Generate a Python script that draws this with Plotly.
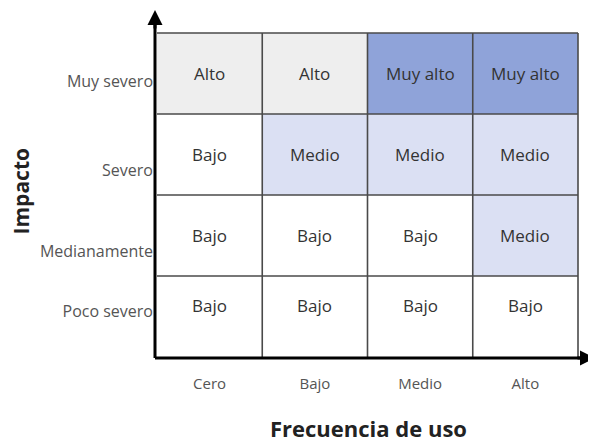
import plotly.graph_objects as go

frequency = ["Cero", "Bajo", "Medio", "Alto"]
impact = ["Poco severo", "Medianamente", "Severo", "Muy severo"]  # bottom to top
risk = [
    ["Bajo", "Bajo", "Bajo", "Bajo"],
    ["Bajo", "Bajo", "Bajo", "Medio"],
    ["Bajo", "Medio", "Medio", "Medio"],
    ["Alto", "Alto", "Muy alto", "Muy alto"],
]
levels = ["Bajo", "Medio", "Alto", "Muy alto"]
level_colors = ["#ffffff", "#dbe0f3", "#eeeeee", "#8fa3d9"]

FONT = "Open Sans"
nx, ny = len(frequency), len(impact)
z = [[levels.index(v) for v in row] for row in risk]
xc = [i + 0.5 for i in range(nx)]
yc = [j + 0.5 for j in range(ny)]

cs = [[k / (len(levels) - 1), c] for k, c in enumerate(level_colors)]

fig = go.Figure()
fig.add_trace(go.Heatmap(
    x=xc, y=yc, z=z,
    colorscale=cs, zmin=0, zmax=len(levels) - 1, showscale=False,
    hoverinfo="skip",
))

shapes = []
grid_col = "#4a4a4a"
for i in range(1, nx + 1):
    shapes.append(dict(type="line", x0=i, x1=i, y0=0, y1=ny, xref="x", yref="y",
                       line=dict(color=grid_col, width=1.6)))
for j in range(1, ny + 1):
    shapes.append(dict(type="line", x0=0, x1=nx, y0=j, y1=j, xref="x", yref="y",
                       line=dict(color=grid_col, width=1.6)))
# axis lines
shapes.append(dict(type="line", xref="paper", yref="paper", x0=0, x1=0.975, y0=0, y1=0,
                   line=dict(color="black", width=3)))
shapes.append(dict(type="line", xref="paper", yref="paper", x0=0, x1=0, y0=0, y1=0.96,
                   line=dict(color="black", width=3)))

ann = []
# arrowheads
ann.append(dict(x=1.0, y=0, xref="paper", yref="paper", ax=-20, ay=0, text="",
                showarrow=True, arrowhead=2, arrowsize=1, arrowwidth=3, arrowcolor="black",
                standoff=0))
ann.append(dict(x=0, y=1.0, xref="paper", yref="paper", ax=0, ay=20, text="",
                showarrow=True, arrowhead=2, arrowsize=1, arrowwidth=3, arrowcolor="black",
                standoff=0))

# cell texts
row_shift = [0.13, 0, 0, 0]
for j in range(ny):
    for i in range(nx):
        ann.append(dict(x=xc[i], y=yc[j] + row_shift[j], xref="x", yref="y", text=risk[j][i],
                        showarrow=False, font=dict(family=FONT, size=17, color="#333333")))

# axis titles
ann.append(dict(x=0.485, y=-0.2, xref="paper", yref="paper", text="<b>Frecuencia de uso</b>",
                showarrow=False, xanchor="center", yanchor="middle",
                font=dict(family=FONT, size=22, color="#222222")))
ann.append(dict(x=-0.305, y=0.48, xref="paper", yref="paper", text="<b>Impacto</b>", textangle=-90,
                showarrow=False, xanchor="center", yanchor="middle",
                font=dict(family=FONT, size=21, color="#222222")))

y_offsets = [0.06, -0.19, -0.19, -0.1]

# page body has an 8px margin; figure sized so plot area lands where the reference has it
fig.update_layout(
    width=588, height=434,
    margin=dict(l=147, r=0, t=2, b=84, autoexpand=False),
    paper_bgcolor="white", plot_bgcolor="white",
    shapes=shapes, annotations=ann,
    xaxis=dict(range=[-0.019, 4.171], tickvals=xc, ticktext=frequency, showgrid=False,
               zeroline=False, ticks="", ticklabelstandoff=15, automargin=False,
               tickfont=dict(family=FONT, size=15, color="#555555")),
    yaxis=dict(range=[-0.012, 4.284], tickvals=[yc[j] + y_offsets[j] for j in range(ny)],
               ticktext=impact, showgrid=False, zeroline=False, ticks="",
               ticklabelstandoff=1, automargin=False,
               tickfont=dict(family=FONT, size=16, color="#555555")),
)

fig.write_html("out.html")
